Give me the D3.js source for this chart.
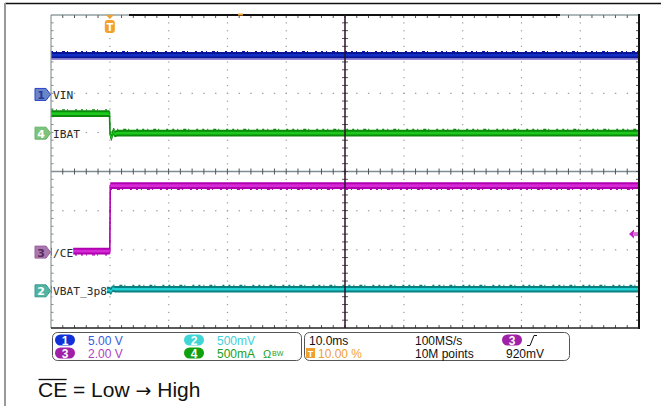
<!DOCTYPE html>
<html><head><meta charset="utf-8">
<script src="https://cdn.jsdelivr.net/npm/d3@7"></script>
<style>body{margin:0;background:#fff;overflow:hidden} svg{display:block}</style>
</head><body><svg id="c" width="661" height="406"></svg>
<script>
// ---------------- data ----------------
const timeDomain = [-10, 90];            // ms (10 ms/div, trigger at 10 %)
const channelIds = [1, 2, 3, 4];
const channelNames = ["VIN", "VBAT_3p8", "/CE", "IBAT"];
const channelPerDiv = [5.0, 0.5, 2.0, 0.5];           // V/div, V/div, V/div, A/div
const channelScaleLabels = ["5.00 V", "500mV", "2.00 V", "500mA"];
const channelOffsets = [0, 3.8, 0, 0];                // value at the channel marker
const vinTime = [-10, 90];
const vinValue = [5.0, 5.0];
const vbatTime = [-10, -0.05, 0.2, 0.5, 0.9, 90];
const vbatValue = [3.81, 3.81, 3.79, 3.83, 3.82, 3.82];
const ceTime = [-10, 0.0, 0.08, 90];
const ceValue = [0.05, 0.05, 3.40, 3.40];
const ibatTime = [-10, -0.05, 0.05, 0.3, 0.55, 0.85, 1.3, 90];
const ibatValue = [0.25, 0.25, -0.02, -0.06, 0.02, -0.01, 0.0, 0.0];
const triggerLevel = 0.92;               // V on CH3
const triggerLevelLabel = "920mV";
const triggerPosLabel = "10.00 %";
const timebaseLabel = "10.0ms";
const sampleRateLabel = "100MS/s";
const recordLabel = "10M points";
const captionParts = ["CE", " = Low ", "\u2192", " High"];

// ---------------- layout ----------------
const L = 51, R = 639, T = 15, B = 328;
const nDivX = 10, nDivY = 8;
const dx = (R - L) / nDivX, dy = (B - T) / nDivY;
const markerDiv = [1.97, -3.05, -2.06, 0.98];  // marker position, divisions above centre
const svg = d3.select("#c");

const x = d3.scaleLinear().domain(timeDomain).range([L, R]);
const yScales = channelIds.map((c, i) => {
  const s = channelPerDiv[i], o = channelOffsets[i], m = markerDiv[i];
  return d3.scaleLinear().domain([o - (nDivY/2 + m) * s, o + (nDivY/2 - m) * s]).range([B, T]);
});

// outer frame
svg.append("line").attr("x1", 5).attr("x2", 661).attr("y1", 3.5).attr("y2", 3.5).attr("stroke", "#111").attr("stroke-width", 1.5);
svg.append("line").attr("x1", 5).attr("x2", 5).attr("y1", 3).attr("y2", 406).attr("stroke", "#999").attr("stroke-width", 2);

// grid dots
const g = svg.append("g");
for (let i = 1; i < nDivX; i++) {
  if (i === 5) continue;
  const gx = L + i * dx;
  for (let k = 1; k < nDivY * 5; k++) {
    g.append("rect").attr("x", gx - 0.5).attr("y", T + k * dy / 5 - 0.5).attr("width", 1.2).attr("height", 1.2).attr("fill", "#9a9aa6");
  }
}
for (let j = 1; j < nDivY; j++) {
  if (j === 4) continue;
  const gy = T + j * dy;
  for (let k = 1; k < nDivX * 5; k++) {
    g.append("rect").attr("x", L + k * dx / 5 - 0.6).attr("y", gy - 0.5).attr("width", 1.4).attr("height", 1.2).attr("fill", "#9a9aa6");
  }
}
// centre cross
const cy = T + 4 * dy, cx = L + 5 * dx;
g.append("line").attr("x1", L).attr("x2", R).attr("y1", cy).attr("y2", cy).attr("stroke", "#7f8d94").attr("stroke-width", 1.5);
for (let k = 1; k < nDivX * 5; k++) {
  g.append("line").attr("x1", L + k * dx / 5).attr("x2", L + k * dx / 5).attr("y1", cy - 3).attr("y2", cy + 3).attr("stroke", "#555").attr("stroke-width", 1);
}
for (let k = 1; k < nDivY * 5; k++) {
  g.append("line").attr("x1", cx - 3).attr("x2", cx + 3).attr("y1", T + k * dy / 5).attr("y2", T + k * dy / 5).attr("stroke", "#555").attr("stroke-width", 1);
}
// border ticks
for (let k = 1; k < nDivX * 5; k++) {
  const tx = L + k * dx / 5;
  g.append("line").attr("x1", tx).attr("x2", tx).attr("y1", T).attr("y2", T + 3).attr("stroke", "#555");
  g.append("line").attr("x1", tx).attr("x2", tx).attr("y1", B).attr("y2", B - 3).attr("stroke", "#555");
}
for (let k = 1; k < nDivY * 5; k++) {
  const ty = T + k * dy / 5;
  g.append("line").attr("x1", L).attr("x2", L + 2.5).attr("y1", ty).attr("y2", ty).attr("stroke", "#888");
  g.append("line").attr("x1", R).attr("x2", R - 3).attr("y1", ty).attr("y2", ty).attr("stroke", "#555");
}

// traces (noisy band: vertical thickness only, so fast edges stay thin)
const styles = [
  {edge: "#0a1496", mid: "#1230c4", under: "#8a6ad0", fr: -3.8},
  {edge: "#0a7f80", mid: "#22d2d2", under: null, fr: -3.8},
  {edge: "#b000b0", mid: "#d62ad6", under: null, fr: 3.8},
  {edge: "#0c8a0c", mid: "#1cc81c", under: null, fr: -3.8}
];
const series = [[vinTime, vinValue], [vbatTime, vbatValue], [ceTime, ceValue], [ibatTime, ibatValue]];
const tr = svg.append("g");
series.forEach(([ts, vs], i) => {
  const pts = ts.map((t, k) => [x(t), yScales[i](vs[k])]);
  const line = d3.line();
  const band = h => d3.area().x(p => p[0]).y0(p => p[1] + h).y1(p => p[1] - h);
  if (styles[i].under) {
    tr.append("path").attr("d", line(pts.map(p => [p[0], p[1] + 4]))).attr("fill", "none").attr("stroke", styles[i].under).attr("stroke-width", 1);
  }
  tr.append("path").attr("d", band(3.3)(pts)).attr("fill", styles[i].edge);
  tr.append("path").attr("d", line(pts)).attr("fill", "none").attr("stroke", styles[i].edge).attr("stroke-width", 1.6);
  tr.append("path").attr("d", band(1.3)(pts)).attr("fill", styles[i].mid);
  tr.append("path").attr("d", line(pts.map(p => [p[0], p[1] + styles[i].fr]))).attr("fill", "none")
    .attr("stroke", styles[i].edge).attr("stroke-width", 1.2).attr("stroke-dasharray", "2,3,1,5,3,2,1,7,2,4");
});

// plot border
svg.append("line").attr("x1", L).attr("x2", L).attr("y1", T).attr("y2", B).attr("stroke", "#8a9898").attr("stroke-width", 1.2);
svg.append("line").attr("x1", L).attr("x2", R).attr("y1", T).attr("y2", T).attr("stroke", "#5a7070").attr("stroke-width", 1);
svg.append("line").attr("x1", 129).attr("x2", 560).attr("y1", T).attr("y2", T).attr("stroke", "#111").attr("stroke-width", 2);
svg.append("line").attr("x1", R).attr("x2", R).attr("y1", T - 1).attr("y2", B + 1).attr("stroke", "#111").attr("stroke-width", 2);
svg.append("line").attr("x1", L).attr("x2", R).attr("y1", B).attr("y2", B).attr("stroke", "#222").attr("stroke-width", 1.5);
svg.append("line").attr("x1", cx).attr("x2", cx).attr("y1", T).attr("y2", B).attr("stroke", "#2a102a").attr("stroke-width", 1.5);
svg.append("rect").attr("x", 238).attr("y", 13.5).attr("width", 5).attr("height", 2).attr("fill", "#f0a030");

// channel labels + markers
const markerFill = ["#6a86c8", "#4fb4a4", "#a878ae", "#7cc47c"];
const markerStroke = ["#2840c8", "#3a9a8a", "#9a60a0", "#6ab06a"];
const markerText = ["#2a3a9a", "#ffffff", "#5a2a5a", "#ffffff"];
channelIds.forEach((c, i) => {
  const my = yScales[i](channelOffsets[i]);
  const x0 = 35;
  svg.append("path").attr("d", `M${x0},${my - 6}L${x0 + 11},${my - 6}L${x0 + 15.5},${my}L${x0 + 11},${my + 6}L${x0},${my + 6}Z`)
    .attr("fill", markerFill[i]).attr("stroke", markerStroke[i]).attr("stroke-width", 1);
  svg.append("text").attr("x", x0 + 6).attr("y", my + 4.5).attr("text-anchor", "middle")
    .attr("font-family", "DejaVu Sans").attr("font-size", 11).attr("font-weight", "bold").attr("fill", markerText[i]).text(c);
  const lab = svg.append("text").attr("x", 53).attr("y", my + 4.5)
    .attr("font-family", "DejaVu Sans Mono").attr("font-size", 11.2).attr("fill", "#2a2a2a").text(channelNames[i]);
  const w = lab.node().getComputedTextLength();
  if (i === 1 || i === 2) {
    svg.insert("rect", "text:last-of-type").attr("x", 52).attr("y", my - 6).attr("width", w + 1).attr("height", 12).attr("fill", "#fff");
    lab.raise();
  }
});

// trigger marker (top) and trigger level arrow (right)
const tx0 = x(0);
svg.append("path").attr("d", `M${tx0 - 4},${T}L${tx0 + 4},${T}L${tx0},${T + 4}Z`).attr("fill", "#f0a030");
svg.append("rect").attr("x", tx0 - 5).attr("y", T + 5).attr("width", 10).attr("height", 13).attr("rx", 3).attr("fill", "#f3a128");
svg.append("text").attr("x", tx0).attr("y", T + 15.5).attr("text-anchor", "middle").attr("font-family", "DejaVu Sans")
  .attr("font-size", 10).attr("font-weight", "bold").attr("fill", "#fff").text("T");
const ty = yScales[2](triggerLevel);
svg.append("path").attr("d", `M${R - 10},${ty}L${R - 5},${ty - 4.5}L${R - 5},${ty + 4.5}Z`).attr("fill", "#c020c0");
svg.append("rect").attr("x", R - 6).attr("y", ty - 2).attr("width", 5).attr("height", 4).attr("fill", "#d070d0");

// ---------------- info panel ----------------
const p = svg.append("g").attr("font-family", "Liberation Sans, Arial, sans-serif").attr("font-size", 12);
p.append("rect").attr("x", 52.5).attr("y", 332.5).attr("width", 249).attr("height", 28).attr("rx", 5).attr("fill", "#fff").attr("stroke", "#555");
p.append("rect").attr("x", 304.5).attr("y", 332.5).attr("width", 265).attr("height", 28).attr("rx", 5).attr("fill", "#fff").attr("stroke", "#555");
const ovalFill = ["#1030d8", "#40d6d6", "#a020a8", "#10a010"];
const valColor = ["#3a5ae0", "#40d0d8", "#b040c0", "#20a020"];
const ovalPos = [[65, 340], [194, 340], [65, 353], [194, 353]];
channelIds.forEach((c, i) => {
  const [ox, oy] = ovalPos[i];
  p.append("rect").attr("x", ox - 10).attr("y", oy - 5.5).attr("width", 20).attr("height", 11).attr("rx", 5.5).attr("fill", ovalFill[i]);
  p.append("text").attr("x", ox).attr("y", oy + 4.5).attr("text-anchor", "middle").attr("fill", "#fff").attr("font-weight", "bold").attr("font-size", 12).text(c);
  p.append("text").attr("x", ox + 23).attr("y", oy + 4.5).attr("fill", valColor[i]).text(channelScaleLabels[i]);
});
p.append("text").attr("x", 263).attr("y", 357.5).attr("fill", "#20a020").attr("font-size", 11).text("\u03A9");
p.append("text").attr("x", 272).attr("y", 356).attr("fill", "#20a020").attr("font-size", 7).text("BW");
p.append("text").attr("x", 309).attr("y", 344.5).attr("fill", "#111").text(timebaseLabel);
p.append("rect").attr("x", 306).attr("y", 348).attr("width", 9).attr("height", 10).attr("fill", "#f0a030");
p.append("text").attr("x", 310.5).attr("y", 356.5).attr("text-anchor", "middle").attr("fill", "#fff").attr("font-size", 9).attr("font-weight", "bold").text("T");
p.append("text").attr("x", 318).attr("y", 357.5).attr("fill", "#f0a030").text(triggerPosLabel);
p.append("text").attr("x", 415).attr("y", 344.5).attr("fill", "#111").text(sampleRateLabel);
p.append("text").attr("x", 415).attr("y", 357.5).attr("fill", "#111").text(recordLabel);
p.append("rect").attr("x", 502).attr("y", 334.5).attr("width", 20).attr("height", 11).attr("rx", 5.5).attr("fill", "#a020a8");
p.append("text").attr("x", 512).attr("y", 344.5).attr("text-anchor", "middle").attr("fill", "#fff").attr("font-weight", "bold").text("3");
p.append("path").attr("d", "M527,345.5L530,345.5L534,335.5L537,335.5").attr("fill", "none").attr("stroke", "#111").attr("stroke-width", 1);
p.append("text").attr("x", 506).attr("y", 357.5).attr("fill", "#111").text(triggerLevelLabel);

// ---------------- caption ----------------
const cap = svg.append("text").attr("x", 38).attr("y", 397).attr("font-family", "Liberation Sans, Arial, sans-serif").attr("font-size", 21).attr("fill", "#111");
cap.append("tspan").text(captionParts[0]);
cap.append("tspan").text(captionParts[1]);
cap.append("tspan").attr("font-family", "DejaVu Sans").attr("font-size", 19).text(captionParts[2]);
cap.append("tspan").text(captionParts[3]);
const ceW = cap.node().getSubStringLength(0, captionParts[0].length);
svg.append("line").attr("x1", 38.5).attr("x2", 38 + ceW - 0.5).attr("y1", 379.5).attr("y2", 379.5).attr("stroke", "#111").attr("stroke-width", 1.3);
</script></body></html>
